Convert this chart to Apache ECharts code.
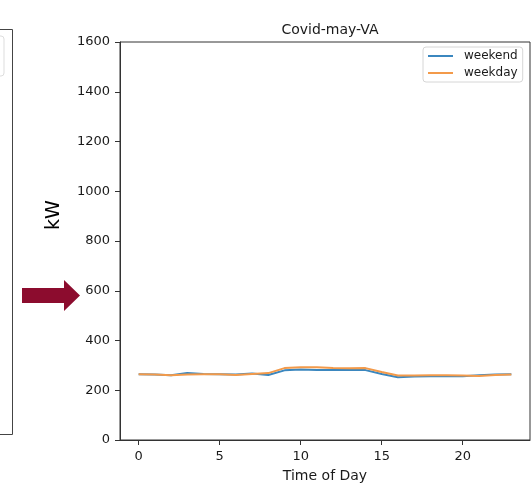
<!DOCTYPE html>
<html>
<head>
<meta charset="utf-8">
<script src="https://cdn.jsdelivr.net/npm/echarts@6/dist/echarts.min.js"></script>
<style>
  html, body { margin: 0; padding: 0; background: #fff; }
  #chart { width: 532px; height: 487px; }
</style>
</head>
<body>
<div id="chart"></div>
<script>
// Hourly load profile, May (Covid period), VA
const hours = [0, 1, 2, 3, 4, 5, 6, 7, 8, 9, 10, 11, 12, 13, 14, 15, 16, 17, 18, 19, 20, 21, 22, 23];
const weekend = [264, 263, 260, 269, 265, 264, 263, 267, 261, 280, 283, 281, 281, 281, 281, 265, 252, 255, 256, 257, 256, 260, 263, 264];
const weekday = [264, 263, 260, 263, 264, 264, 261, 265, 269, 289, 292, 292, 289, 288, 289, 273, 259, 259, 260, 260, 259, 257, 261, 263];
const xTicks = [0, 5, 10, 15, 20];
const yTicks = [0, 200, 400, 600, 800, 1000, 1200, 1400, 1600];

const FONT = 'DejaVu Sans';
const INK = '#1a1a1a';

const chart = echarts.init(document.getElementById('chart'), null, { renderer: 'canvas' });

const pair = (vals) => hours.map((h, i) => [h, vals[i]]);

chart.setOption({
  animation: false,
  backgroundColor: '#fff',
  textStyle: { fontFamily: FONT, color: INK },
  title: {
    text: 'Covid-may-VA',
    left: 325,
    textAlign: 'center',
    top: 18,
    textStyle: { fontFamily: FONT, fontSize: 14, fontWeight: 'normal', color: INK }
  },
  grid: {
    left: 120, right: 2, top: 42, bottom: 47,
    outerBoundsMode: 'none',
    containLabel: false,
    show: true, borderColor: '#333', borderWidth: 1, backgroundColor: 'transparent'
  },
  legend: {
    left: 423, top: 47,
    orient: 'vertical',
    padding: [2, 5, 2, 5],
    itemGap: 3,
    itemWidth: 25, itemHeight: 2,
    icon: 'rect',
    backgroundColor: '#fff',
    borderColor: '#d6d6d6', borderWidth: 1, borderRadius: 3,
    textStyle: { fontFamily: FONT, fontSize: 12, color: INK, lineHeight: 14, padding: [0, 0, 0, 6] },
    data: ['weekend', 'weekday']
  },
  xAxis: {
    type: 'value',
    min: -1.15, max: 24.15,
    name: 'Time of Day',
    nameLocation: 'middle',
    nameGap: 29,
    nameTextStyle: { fontFamily: FONT, fontSize: 14, color: INK },
    axisLine: { show: true, onZero: false, lineStyle: { color: '#333', width: 1 } },
    axisTick: { show: true, length: 5, lineStyle: { color: '#333' }, customValues: xTicks },
    axisLabel: { fontFamily: FONT, fontSize: 13, color: INK, margin: 10, customValues: xTicks },
    splitLine: { show: false }
  },
  yAxis: {
    type: 'value',
    min: yTicks[0], max: yTicks[yTicks.length - 1], interval: 200,
    axisLine: { show: true, onZero: false, lineStyle: { color: '#333', width: 1 } },
    axisTick: { show: true, length: 5, lineStyle: { color: '#333' } },
    axisLabel: { fontFamily: FONT, fontSize: 13, color: INK, margin: 10, formatter: (v) => String(v) },
    splitLine: { show: false }
  },
  series: [
    {
      name: 'weekend', type: 'line', data: pair(weekend),
      showSymbol: false, symbol: 'none',
      lineStyle: { color: '#3b87bf', width: 2 }, itemStyle: { color: '#3b87bf' }
    },
    {
      name: 'weekday', type: 'line', data: pair(weekday),
      showSymbol: false, symbol: 'none',
      lineStyle: { color: '#f39a4a', width: 2 }, itemStyle: { color: '#f39a4a' }
    }
  ],
  graphic: [
    // y-axis unit label
    { type: 'text', x: 54, y: 215, rotation: Math.PI / 2,
      style: { text: 'kW', font: '19px "DejaVu Sans"', fill: '#000', align: 'center', verticalAlign: 'middle' } },
    // edge of the neighbouring panel
    { type: 'polyline', shape: { points: [[0, 29.5], [12.5, 29.5], [12.5, 434.5], [0, 434.5]] },
      style: { stroke: '#444', lineWidth: 1, fill: null } },
    { type: 'rect', shape: { x: -4, y: 36, width: 8, height: 40, r: 3 },
      style: { stroke: '#ddd', lineWidth: 1, fill: '#fff' } },
    // pointer arrow
    { type: 'polygon',
      shape: { points: [[22, 288], [64, 288], [64, 280], [80, 295.5], [64, 311], [64, 303], [22, 303]] },
      style: { fill: '#8c0c2e' } }
  ]
});
</script>
</body>
</html>
